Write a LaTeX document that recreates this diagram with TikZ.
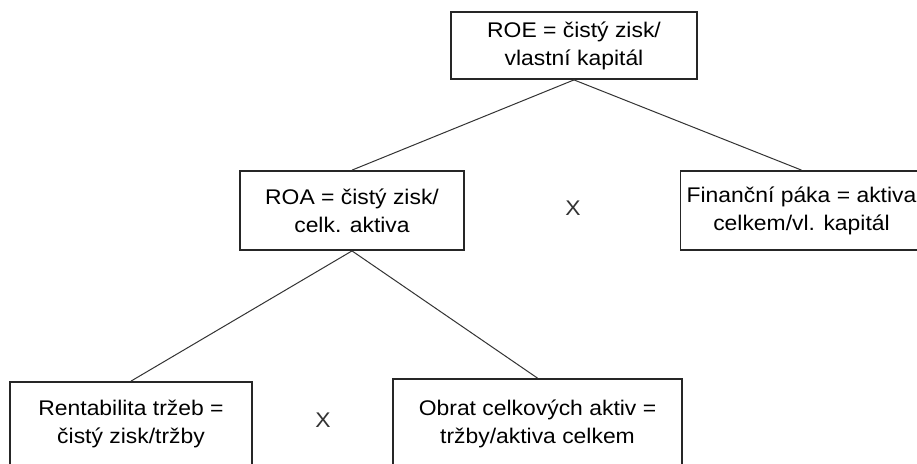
\documentclass[tikz,border=0pt]{standalone}
\usepackage{fontspec}
\setmainfont{Liberation Sans}[FakeStretch=1.08]
\begin{document}
\begin{tikzpicture}[x=0.5pt,y=-0.5pt,
	box/.style={draw=black!85, line width=0.9pt, rectangle, align=center,
		inner sep=0pt, font=\fontsize{10.6}{14}\selectfont},
	times/.style={font=\fontsize{10.6}{14}\selectfont, text=black!80},
	link/.style={draw=black!80, line width=0.5pt}]
	\clip (0,0) rectangle (917,463);
	\fill[white] (0,0) rectangle (917,463);
	% top level
	\node[box, minimum width=123pt, minimum height=33.5pt] (roe) at (574,45.5)
		{ROE = čistý zisk/\\vlastní kapitál};
	% second level
	\node[box, minimum width=112pt, minimum height=39.5pt] (roa) at (352,210.5)
		{ROA = čistý zisk/\\celk. aktiva};
	\node[box, minimum width=121pt, minimum height=39.5pt] (paka) at (801.5,210.5)
		{Finanční páka = aktiva\\celkem/vl. kapitál};
	\node[times] (krat1) at (573,208) {X};
	% third level
	\node[box, minimum width=121pt, minimum height=42pt] (rent) at (131,424)
		{Rentabilita tržeb =\\čistý zisk/tržby};
	\node[box, minimum width=144.5pt, minimum height=44.5pt] (obrat) at (537.5,423.5)
		{Obrat celkových aktiv =\\tržby/aktiva celkem};
	\node[times] (krat2) at (323,420) {X};
	% connectors
	\draw[link] (roe.south) -- (roa.north);
	\draw[link] (roe.south) -- (paka.north);
	\draw[link] (roa.south) -- (rent.north);
	\draw[link] (roa.south) -- (obrat.north);
\end{tikzpicture}
\end{document}
